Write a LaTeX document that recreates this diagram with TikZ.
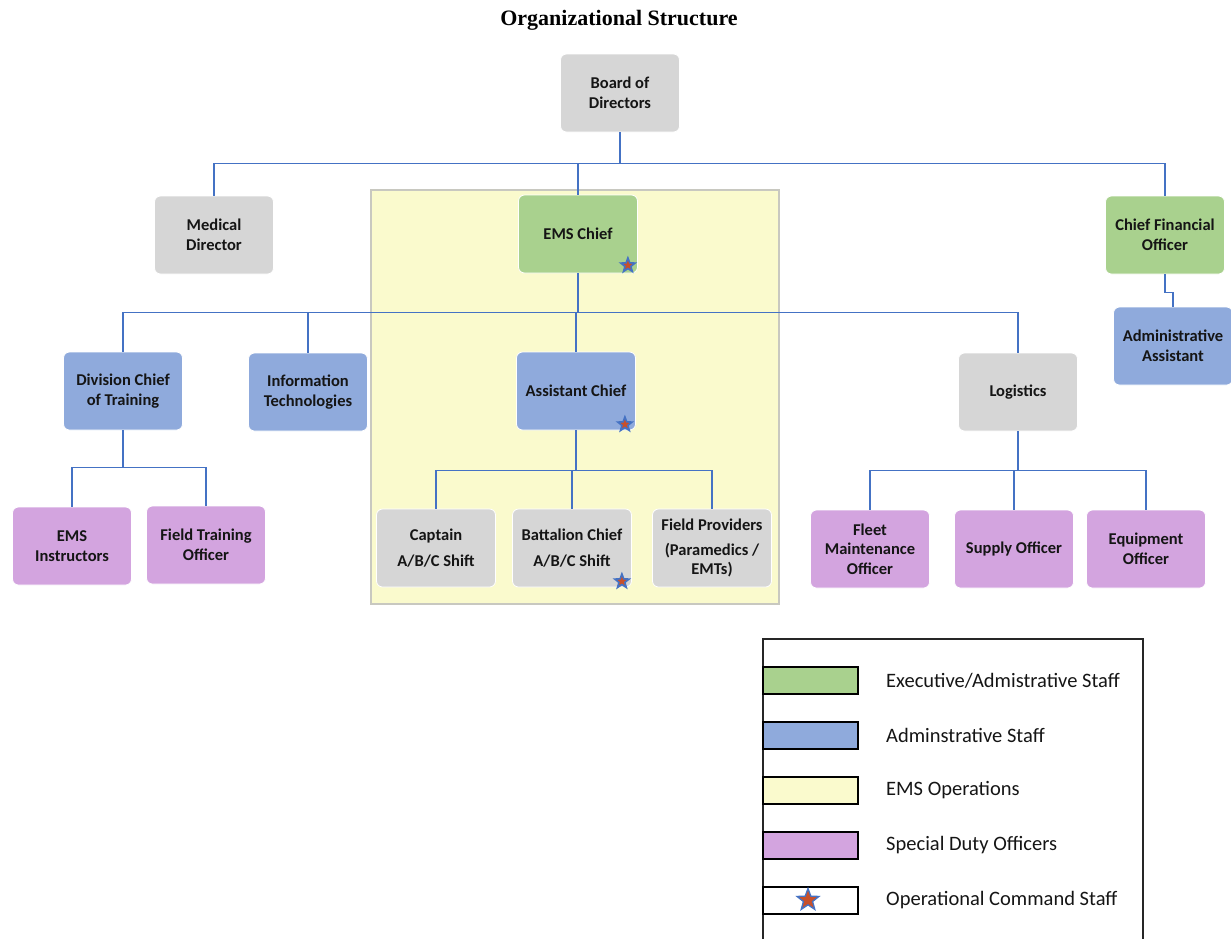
\documentclass[tikz,border=0pt]{standalone}
\usepackage{fontspec}
\setmainfont{Carlito}
\newfontfamily\titlefont{Liberation Serif}
\usetikzlibrary{shapes.geometric}
\definecolor{cgray}{HTML}{D6D6D6}
\definecolor{cgreen}{HTML}{A9D18E}
\definecolor{cblue}{HTML}{8FAADC}
\definecolor{cpurple}{HTML}{D3A4DF}
\definecolor{cyellow}{HTML}{FAFACD}
\definecolor{cyborder}{HTML}{C8C8C0}
\definecolor{cline}{HTML}{4472C4}
\definecolor{cstarfill}{HTML}{C8502A}
\definecolor{ctext}{HTML}{151515}
\tikzset{
  orgbox/.style={rounded corners=6pt, draw=white, line width=0.8pt,
    minimum width=119pt, minimum height=78pt, inner sep=0pt, align=center,
    text=ctext, font=\fontsize{16.5}{19.5}\selectfont\bfseries},
  graybox/.style={orgbox, fill=cgray},
  greenbox/.style={orgbox, fill=cgreen},
  bluebox/.style={orgbox, fill=cblue},
  purplebox/.style={orgbox, fill=cpurple},
  conn/.style={draw=cline, line width=1.8pt},
  opstar/.style={star, star points=5, star point ratio=2.4, fill=cstarfill,
    draw=cline, inner sep=0pt},
  swatch/.style={draw=black, line width=2pt, minimum width=95pt, minimum height=27pt, inner sep=0pt},
  legtext/.style={anchor=west, inner sep=0pt, text=ctext, font=\fontsize{20.5}{24}\selectfont},
}
\begin{document}
\begin{tikzpicture}[x=1pt,y=-1pt]
\useasboundingbox (0,0) rectangle (1231,938);
% title
\node[font=\titlefont\fontsize{22}{26}\selectfont\bfseries, text=black] (title) at (619,20) {Organizational Structure};
% EMS operations area
\node[draw=cyborder, fill=cyellow, line width=1.2pt, minimum width=408pt, minimum height=414pt, inner sep=0pt] (ops) at (575,397) {};
% boxes
\node[graybox] (board) at (620,93) {Board of\\Directors};
\node[graybox] (med) at (214,235) {Medical\\Director};
\node[greenbox] (ems) at (578,234) {EMS Chief};
\node[greenbox] (cfo) at (1165,235) {Chief Financial\\Officer};
\node[bluebox] (aa) at (1173,346) {Administrative\\Assistant};
\node[bluebox] (div) at (123,391) {Division Chief\\of Training};
\node[bluebox] (it) at (308,392) {Information\\Technologies};
\node[bluebox] (asst) at (576,391) {Assistant Chief};
\node[graybox] (log) at (1018,392) {Logistics};
\node[purplebox] (emsi) at (72,546) {EMS\\Instructors};
\node[purplebox] (fto) at (206,545) {Field Training\\Officer};
\node[graybox] (cap) at (436,548) {Captain\\[6pt]A/B/C Shift};
\node[graybox] (bat) at (572,548) {Battalion Chief\\[6pt]A/B/C Shift};
\node[graybox] (fp) at (712,548) {Field Providers\\[5pt](Paramedics /\\EMTs)};
\node[purplebox] (fleet) at (870,549) {Fleet\\Maintenance\\Officer};
\node[purplebox] (sup) at (1014,549) {Supply Officer};
\node[purplebox] (equip) at (1146,549) {Equipment\\Officer};
% connectors
\draw[conn] (board.south) -- ++(0,31) coordinate (b1);
\draw[conn] (med.north) -- (med.north |- b1) -- (cfo.north |- b1) -- (cfo.north);
\draw[conn] (ems.north) -- (ems.north |- b1);
\draw[conn] (ems.south) -- ++(0,39) coordinate (e1);
\draw[conn] (div.north) -- (div.north |- e1) -- (log.north |- e1) -- (log.north);
\draw[conn] (it.north) -- (it.north |- e1);
\draw[conn] (asst.north) -- (asst.north |- e1);
\draw[conn] (cfo.south) -- ++(0,18) coordinate (c1) -- (c1 -| aa.north) -- (aa.north);
\draw[conn] (div.south) -- ++(0,37) coordinate (d1);
\draw[conn] (emsi.north) -- (emsi.north |- d1) -- (fto.north |- d1) -- (fto.north);
\draw[conn] (asst.south) -- ++(0,40) coordinate (a1);
\draw[conn] (cap.north) -- (cap.north |- a1) -- (fp.north |- a1) -- (fp.north);
\draw[conn] (bat.north) -- (bat.north |- a1);
\draw[conn] (log.south) -- ++(0,39) coordinate (l1);
\draw[conn] (fleet.north) -- (fleet.north |- l1) -- (equip.north |- l1) -- (equip.north);
\draw[conn] (sup.north) -- (sup.north |- l1);
% stars
\node[opstar, minimum size=15pt, line width=1.6pt] (s1) at ([xshift=-10pt,yshift=8pt]ems.south east) {};
\node[opstar, minimum size=15pt, line width=1.6pt] (s2) at ([xshift=-11pt,yshift=6pt]asst.south east) {};
\node[opstar, minimum size=15pt, line width=1.6pt] (s3) at ([xshift=-10pt,yshift=6pt]bat.south east) {};
% legend
\draw[line width=2pt, draw=black!85] (763,940) -- (763,639) -- (1143,639) -- (1143,940);
\node[swatch, fill=cgreen] (sw1) at (810.5,680.5) {};
\node[swatch, fill=cblue] (sw2) at (810.5,735.5) {};
\node[swatch, fill=cyellow] (sw3) at (810.5,790.5) {};
\node[swatch, fill=cpurple] (sw4) at (810.5,845.5) {};
\node[swatch, fill=white] (sw5) at (810.5,900.5) {};
\node[opstar, minimum size=23pt, line width=1.3pt] (s4) at (808,900) {};
\node[legtext] (t1) at (886,680.5) {Executive/Admistrative Staff};
\node[legtext] (t2) at (886,735.5) {Adminstrative Staff};
\node[legtext] (t3) at (886,790.5) {EMS Operations};
\node[legtext] (t4) at (886,845.5) {Special Duty Officers};
\node[legtext] (t5) at (886,900.5) {Operational Command Staff};
\end{tikzpicture}
\end{document}
